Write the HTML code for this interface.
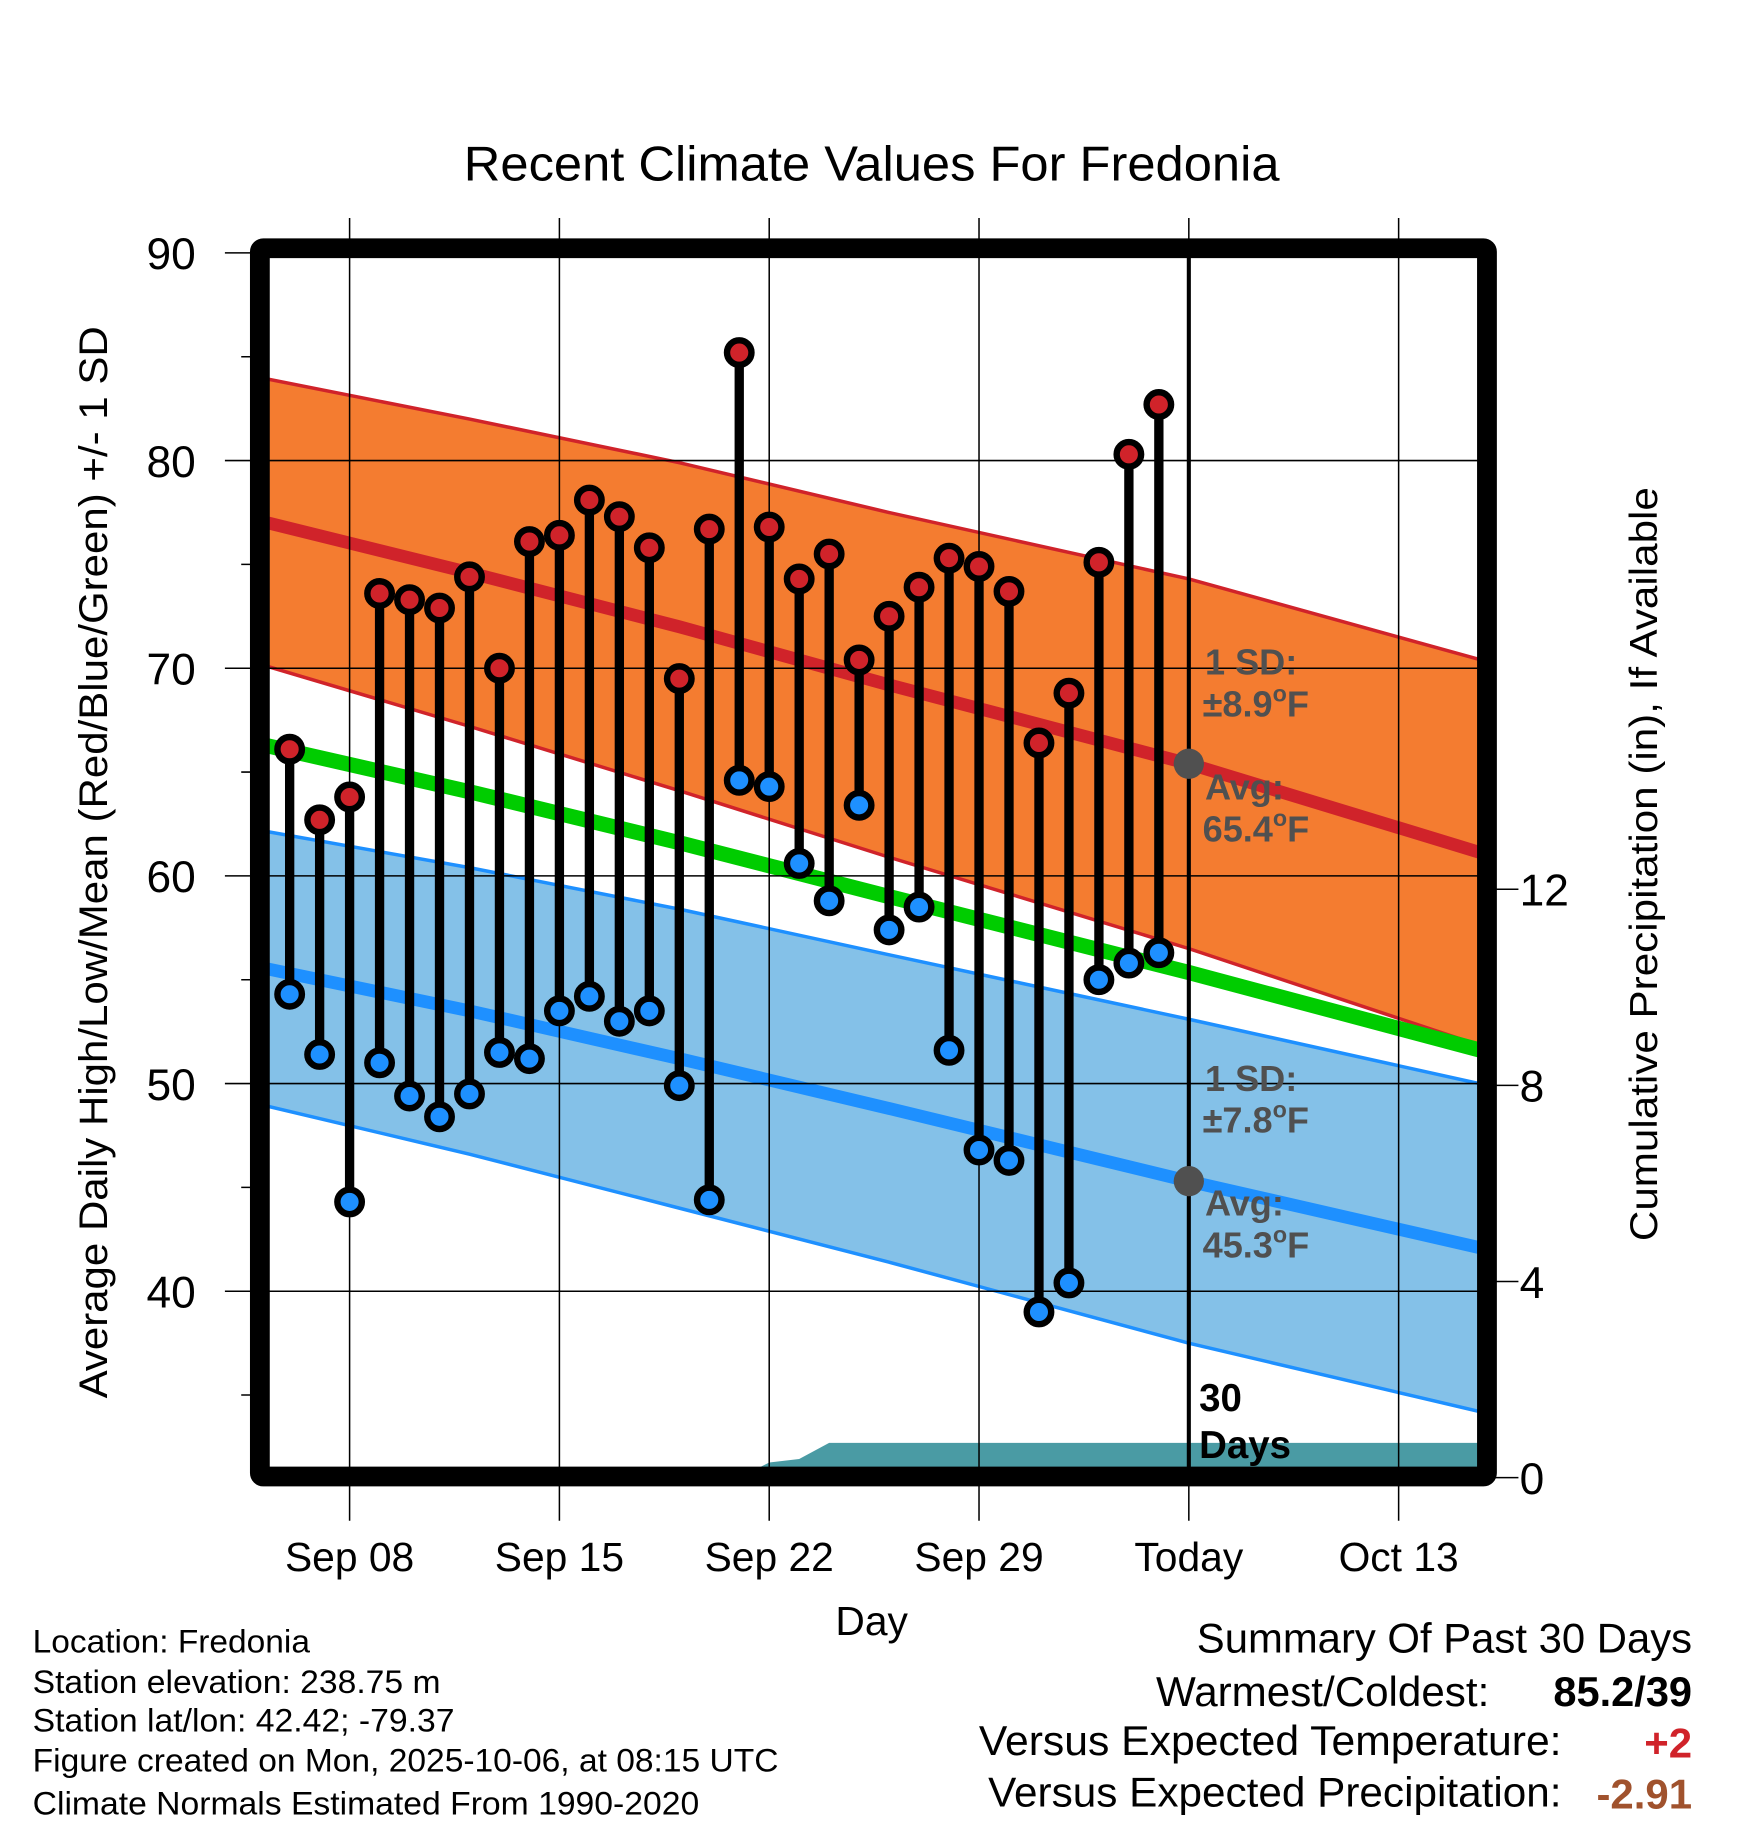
<!DOCTYPE html>
<html><head><meta charset="utf-8"><style>
html,body{margin:0;padding:0;background:#fff}
svg{display:block}
text{font-family:"Liberation Sans",Arial,sans-serif}
</style></head><body>
<svg id="chart" width="1748" height="1828" viewBox="0 0 1500 1568.6" xmlns="http://www.w3.org/2000/svg">
<g id="bg"></g>
</svg>
<script>
// ---- data ----
const obsDays = ['Sep 6','Sep 7','Sep 8','Sep 9','Sep 10','Sep 11','Sep 12','Sep 13','Sep 14','Sep 15','Sep 16','Sep 17','Sep 18','Sep 19','Sep 20','Sep 21','Sep 22','Sep 23','Sep 24','Sep 25','Sep 26','Sep 27','Sep 28','Sep 29','Sep 30','Oct 1','Oct 2','Oct 3','Oct 4','Oct 5'];
const highs = [66.1,62.7,63.8,73.6,73.3,72.9,74.4,70.0,76.1,76.4,78.1,77.3,75.8,69.5,76.7,85.2,76.8,74.3,75.5,70.4,72.5,73.9,75.3,74.9,73.7,66.4,68.8,75.1,80.3,82.7];
const lows  = [54.3,51.4,44.3,51.0,49.4,48.4,49.5,51.5,51.2,53.5,54.2,53.0,53.5,49.9,44.4,64.6,64.3,60.6,58.8,63.4,57.4,58.5,51.6,46.8,46.3,39.0,40.4,55.0,55.8,56.3];
// normals (day offsets from Sep 8)
const normDays = [-3,4,11,18,28,38];
const normHigh = [77.1,74.6,72.0,69.2,65.4,61.0];
const sdHigh   = [6.9,7.4,7.9,8.3,8.9,9.3];
const normLow  = [55.6,53.5,51.2,48.8,45.3,42.0];
const sdLow    = [6.6,6.9,7.2,7.4,7.8,7.9];
// cumulative precipitation (in), day offsets from Sep 8
const precipDays = [-2,13,14,15,16,28,38];
const precipVals = [0,0,0.31,0.38,0.71,0.71,0.71];
const xTickLabels = ['Sep 08','Sep 15','Sep 22','Sep 29','Today','Oct 13'];
const yTicks = [90,80,70,60,50,40];
const yMinor = [85,75,65,55,45,35];
const pTicks = [0,4,8,12];
const todayIdx = 4;

// ---- axes ----
const X0=223, X1=1276, Y0=213, Y1=1267;
const xs = d => 300 + d*25.72;
const ys = v => 217 + (90-v)*17.82;
const ps = p => 1268 - p*42.08;

const NS='http://www.w3.org/2000/svg';
const svg=document.getElementById('chart');
function mk(tag,attrs,parent){const e=document.createElementNS(NS,tag);for(const k in attrs)e.setAttribute(k,attrs[k]);(parent||svg).appendChild(e);return e;}

const defs=mk('defs',{});
const cp=mk('clipPath',{id:'plotclip'},defs);
mk('rect',{x:X0,y:Y0,width:X1-X0,height:Y1-Y0},cp);
const plot=mk('g',{'clip-path':'url(#plotclip)'});



function linePts(f){return normDays.map((d,i)=>xs(d).toFixed(1)+','+ys(f(i)).toFixed(1)).join(' ');}
function bandPts(fu,fl){const up=normDays.map((d,i)=>xs(d).toFixed(1)+','+ys(fu(i)).toFixed(1));const lo=normDays.map((d,i)=>xs(d).toFixed(1)+','+ys(fl(i)).toFixed(1)).reverse();return up.concat(lo).join(' ');}

let e;
e=mk('polygon',{points:bandPts(i=>normHigh[i]+sdHigh[i],i=>normHigh[i]-sdHigh[i]),fill:'#f47c30',stroke:'none'},plot);


e=mk('polygon',{points:bandPts(i=>normLow[i]+sdLow[i],i=>normLow[i]-sdLow[i]),fill:'#84c1e8',stroke:'none'},plot);


[[i=>normHigh[i]+sdHigh[i],'#d0232a'],[i=>normHigh[i]-sdHigh[i],'#d0232a'],[i=>normLow[i]+sdLow[i],'#1e90ff'],[i=>normLow[i]-sdLow[i],'#1e90ff']].forEach(a=>{
  e=mk('polyline',{points:linePts(a[0]),fill:'none',stroke:a[1],'stroke-width':3},plot);
  
  
});
e=mk('polyline',{points:linePts(i=>normHigh[i]),fill:'none',stroke:'#d0232a','stroke-width':11},plot);


e=mk('polyline',{points:linePts(i=>normLow[i]),fill:'none',stroke:'#1e90ff','stroke-width':11},plot);


e=mk('polyline',{points:linePts(i=>(normHigh[i]+normLow[i])/2),fill:'none',stroke:'#00cc00','stroke-width':13},plot);



let pp=precipDays.map((d,i)=>xs(d).toFixed(1)+','+ps(precipVals[i]).toFixed(1));
pp.push(xs(precipDays[precipDays.length-1]).toFixed(1)+','+(Y1+10));
pp.push(xs(precipDays[0]).toFixed(1)+','+(Y1+10));
e=mk('polygon',{points:pp.join(' '),fill:'#4a9ba4'},plot);



const grid=mk('g',{stroke:'#000','stroke-width':1.3});


xTickLabels.forEach((l,i)=>{mk('line',{x1:xs(i*7),x2:xs(i*7),y1:187,y2:1305},grid);});
yTicks.forEach(v=>{mk('line',{x1:193,x2:X1,y1:ys(v),y2:ys(v)},grid);});
yMinor.forEach(v=>{if(ys(v)<Y1)mk('line',{x1:207,x2:X0,y1:ys(v),y2:ys(v)},grid);});
pTicks.forEach(p=>{mk('line',{x1:X1,x2:1303,y1:ps(p),y2:ps(p)},grid);});

e=mk('line',{x1:xs(28),x2:xs(28),y1:Y0,y2:Y1,stroke:'#000','stroke-width':3.5});



const ann=mk('g',{fill:'#505050','font-weight':'bold','font-size':31});


function annText(x,y,txt,deg){const t=mk('text',{x:x,y:y},ann);t.textContent=txt;if(deg){const s=mk('tspan',{'font-size':20,dy:-13},t);s.textContent='o';const f=mk('tspan',{dy:13},t);f.textContent='F';}return t;}
const todayHi=normHigh[todayIdx], todayLo=normLow[todayIdx];
annText(1034,579,'1 SD:');annText(1032,615,'\u00b1'+sdHigh[todayIdx].toFixed(1),true);
annText(1034,686,'Avg:');annText(1032,722,todayHi.toFixed(1),true);
annText(1034,936,'1 SD:');annText(1032,972,'\u00b1'+sdLow[todayIdx].toFixed(1),true);
annText(1034,1043,'Avg:');annText(1032,1079,todayLo.toFixed(1),true);
e=mk('circle',{cx:xs(28),cy:ys(todayHi),r:13,fill:'#505050'});


e=mk('circle',{cx:xs(28),cy:ys(todayLo),r:13,fill:'#505050'});



const obs=mk('g',{});


highs.forEach((h,i)=>{
  const x=xs(i-2);
  e=mk('line',{x1:x,x2:x,y1:ys(h),y2:ys(lows[i]),stroke:'#000','stroke-width':8},obs);
  
  
});
highs.forEach((h,i)=>{
  const x=xs(i-2);
  e=mk('circle',{cx:x,cy:ys(h),r:10.5,fill:'#d0232a',stroke:'#000','stroke-width':5.5},obs);
  
  
  e=mk('circle',{cx:x,cy:ys(lows[i]),r:10.5,fill:'#1e90ff',stroke:'#000','stroke-width':5.5},obs);
  
  
});

const td=mk('g',{'font-weight':'bold','font-size':33,fill:'#000'});


mk('text',{x:1029,y:1211},td).textContent='30';
mk('text',{x:1029,y:1251},td).textContent='Days';

e=mk('rect',{x:X0,y:Y0,width:X1-X0,height:Y1-Y0,fill:'none',stroke:'#000','stroke-width':17,rx:3});



const yl=mk('g',{'font-size':38,'text-anchor':'end'});


yTicks.forEach(v=>{mk('text',{x:168,y:ys(v)+14},yl).textContent=v;});
const pl=mk('g',{'font-size':38,'text-anchor':'start'});


pTicks.forEach(p=>{mk('text',{x:1304,y:ps(p)+14},pl).textContent=p;});
const xl=mk('g',{'font-size':35,'text-anchor':'middle'});


xTickLabels.forEach((l,i)=>{mk('text',{x:xs(i*7),y:1348},xl).textContent=l;});
</script>
<script>
const s2=document.getElementById('chart');
s2.insertAdjacentHTML('beforeend',`
<text x="398" y="155" font-size="42" textLength="700" lengthAdjust="spacingAndGlyphs">Recent Climate Values For Fredonia</text>
<text transform="translate(92,1200) rotate(-90)" font-size="34" textLength="920" lengthAdjust="spacingAndGlyphs">Average Daily High/Low/Mean (Red/Blue/Green) +/- 1 SD</text>
<text transform="translate(1422,1065) rotate(-90)" font-size="33" textLength="647" lengthAdjust="spacingAndGlyphs">Cumulative Precipitation (in), If Available</text>
<text x="748" y="1403" font-size="35" text-anchor="middle">Day</text>
<g font-size="28" lengthAdjust="spacingAndGlyphs">
<text x="28" y="1418" textLength="238" lengthAdjust="spacingAndGlyphs">Location: Fredonia</text>
<text x="28" y="1453" textLength="350" lengthAdjust="spacingAndGlyphs">Station elevation: 238.75 m</text>
<text x="28" y="1486" textLength="362" lengthAdjust="spacingAndGlyphs">Station lat/lon: 42.42; -79.37</text>
<text x="28" y="1520" textLength="640" lengthAdjust="spacingAndGlyphs">Figure created on Mon, 2025-10-06, at 08:15 UTC</text>
<text x="28" y="1557" textLength="572" lengthAdjust="spacingAndGlyphs">Climate Normals Estimated From 1990-2020</text>
</g>
<g font-size="36">
<text x="1027" y="1418" textLength="425" lengthAdjust="spacingAndGlyphs">Summary Of Past 30 Days</text>
<text x="992" y="1464" textLength="286" lengthAdjust="spacingAndGlyphs">Warmest/Coldest:</text>
<text x="1333" y="1464" font-weight="bold" textLength="119" lengthAdjust="spacingAndGlyphs">85.2/39</text>
<text x="840" y="1506" textLength="500" lengthAdjust="spacingAndGlyphs">Versus Expected Temperature:</text>
<text x="1452" y="1508" text-anchor="end" font-weight="bold" fill="#d0232a">+2</text>
<text x="848" y="1550" textLength="492" lengthAdjust="spacingAndGlyphs">Versus Expected Precipitation:</text>
<text x="1452" y="1552" text-anchor="end" font-weight="bold" fill="#a0522d">-2.91</text>
</g>`);
</script>
</body></html>
